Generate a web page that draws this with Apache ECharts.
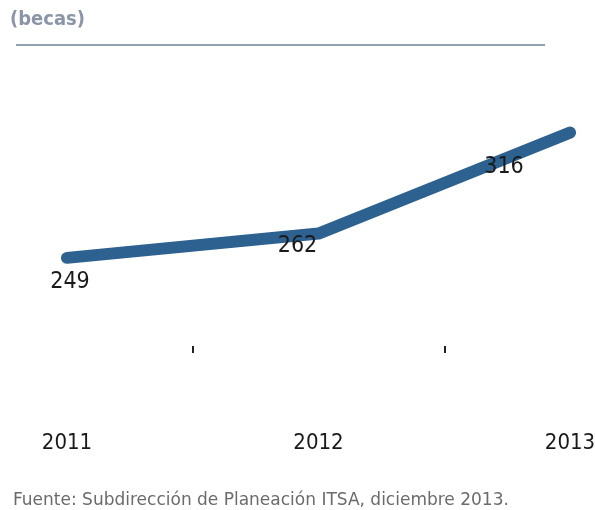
<!DOCTYPE html>
<html>
<head>
<meta charset="utf-8">
<script src="https://cdn.jsdelivr.net/npm/echarts@6/dist/echarts.min.js"></script>
<style>
  html, body { margin: 0; padding: 0; background: #fff; }
  #chart { width: 595px; height: 510px; }
</style>
</head>
<body>
<div id="chart"></div>
<script>
const years = ['2011', '2012', '2013'];
const becas = [249, 262, 316];
// where each value label sits relative to its point
const labelOffsets = [[3, 24], [-21, 12], [-66, 34]];

const chart = echarts.init(document.getElementById('chart'));
const numFont = '"Liberation Sans Narrow", "DejaVu Sans Condensed", Roboto, sans-serif';

chart.setOption({
    animation: false,
    grid: { left: 67, right: 25, top: 69, bottom: 160.5, outerBoundsMode: 'none' },
    graphic: [
        {
            type: 'text', left: 10, top: 10,
            style: { text: '(becas)', fill: '#8b95a8', font: 'bold 20px ' + numFont }
        },
        {
            type: 'line',
            shape: { x1: 16, y1: 45, x2: 545, y2: 45 },
            style: { stroke: '#8ea2b2', lineWidth: 2 }
        },
        {
            type: 'text', left: 13, top: 492,
            style: { text: 'Fuente: Subdirección de Planeación ITSA, diciembre 2013.', fill: '#6b6b6b', font: '17px "DejaVu Sans"' }
        }
    ],
    xAxis: [
        {
            type: 'category',
            data: years,
            boundaryGap: false,
            axisLine: { show: false },
            axisTick: { show: false },
            axisLabel: { margin: 83, color: '#1a1a1a', fontSize: 22, fontFamily: numFont }
        },
        {
            type: 'category',
            position: 'bottom',
            data: ['', '', '', '', ''],
            boundaryGap: false,
            offset: -3.5,
            axisLine: { show: false },
            axisLabel: { show: false },
            axisTick: {
                show: true, length: 7,
                interval: (i) => i % 2 === 1,
                lineStyle: { color: '#222', width: 2 }
            }
        }
    ],
    yAxis: {
        type: 'value', min: 200, max: 350,
        show: false, splitLine: { show: false }
    },
    series: [{
        type: 'line',
        data: becas.map((v, i) => ({
            value: v,
            label: { offset: labelOffsets[i] }
        })),
        symbol: 'circle',
        symbolSize: 2,
        itemStyle: { color: '#2c6190' },
        lineStyle: { color: '#2c6190', width: 12, cap: 'round', join: 'round' },
        label: {
            show: true, position: 'inside',
            color: '#1a1a1a', fontSize: 23, fontFamily: numFont
        },
        z: 3
    }]
});
</script>
</body>
</html>
